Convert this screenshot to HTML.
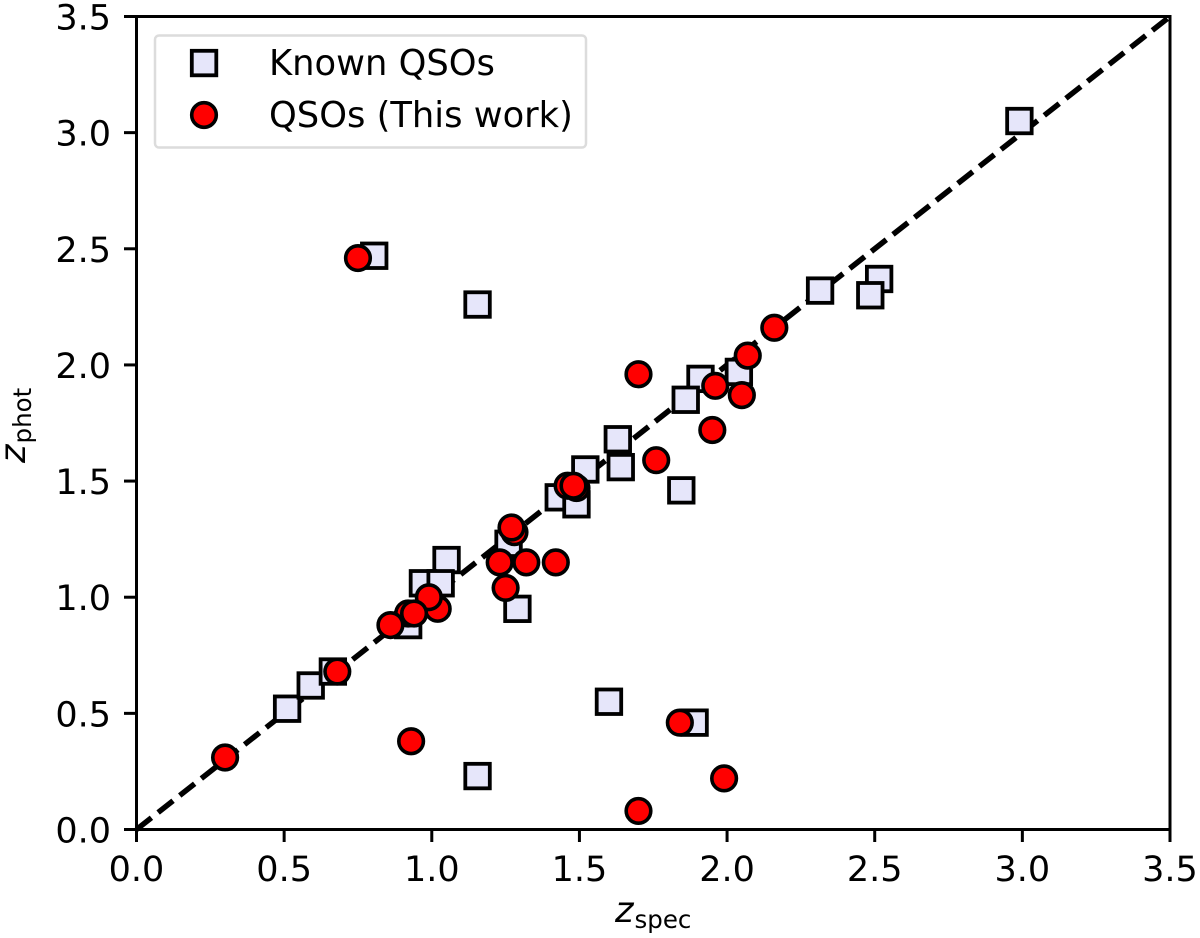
<!DOCTYPE html>
<html>
<head>
<meta charset="utf-8">
<title>zphot vs zspec</title>
<style>
html,body{margin:0;padding:0;background:#fff;}
svg{display:block;}
text{font-family:"DejaVu Sans",sans-serif;fill:#000;}
</style>
</head>
<body>
<svg id="chart" xmlns="http://www.w3.org/2000/svg" width="1200" height="938" viewBox="0 0 1200 938">
  <rect x="0" y="0" width="1200" height="938" fill="#fff"/>
  <g id="lineLayer"></g>
  <g id="squareLayer"></g>
  <g id="circleLayer"></g>
  <rect x="136.5" y="16.5" width="1033.5" height="813" fill="none" stroke="#000" stroke-width="3"/>
  <g id="xTicks"></g>
  <g id="yTicks"></g>
  <text x="615" y="922" font-size="35.3"><tspan font-style="italic">z</tspan><tspan dx="1" dy="6" font-size="24.5">spec</tspan></text>
  <text transform="translate(25,463) rotate(-90)" font-size="35.3"><tspan font-style="italic">z</tspan><tspan dx="1" dy="6" font-size="24.5">phot</tspan></text>
  <g>
    <rect x="155" y="35.5" width="431" height="112" rx="4" ry="4" fill="#fff" fill-opacity="0.85" stroke="#dcdcdc" stroke-width="2.5"/>
    <rect x="191.8" y="50.8" width="24.5" height="24.5" fill="#E6E6FA" stroke="#000" stroke-width="3.8"/>
    <text x="269" y="75" font-size="35.3">Known QSOs</text>
    <circle cx="204" cy="115" r="12.3" fill="#FF0000" stroke="#000" stroke-width="3.6"/>
    <text x="269" y="127" font-size="35.3">QSOs (This work)</text>
  </g>
</svg>
<script>
const tickValues = [0, 0.5, 1, 1.5, 2, 2.5, 3, 3.5];
const tickLabels = ["0.0", "0.5", "1.0", "1.5", "2.0", "2.5", "3.0", "3.5"];
const lineX = [0, 3.5];
const lineY = [0, 3.5];
const knownX = [0.51, 0.59, 0.665, 0.805, 1.155, 2.99, 2.515, 2.485, 2.315, 1.91, 2.04, 1.86, 1.63, 1.64, 1.845, 1.52, 1.43, 1.49, 1.26, 1.29, 1.05, 0.97, 1.03, 0.92, 1.60, 1.89, 1.155];
const knownY = [0.52, 0.62, 0.68, 2.47, 2.26, 3.05, 2.37, 2.30, 2.32, 1.94, 1.97, 1.85, 1.68, 1.56, 1.46, 1.55, 1.43, 1.40, 1.23, 0.95, 1.16, 1.06, 1.06, 0.88, 0.55, 0.46, 0.23];
const thisWorkX = [0.30, 0.75, 0.68, 0.93, 1.02, 0.99, 0.92, 0.94, 0.86, 1.23, 1.32, 1.42, 1.25, 1.28, 1.27, 1.46, 1.49, 1.48, 1.70, 1.96, 2.05, 2.07, 1.95, 1.76, 2.16, 1.84, 1.99, 1.70];
const thisWorkY = [0.31, 2.46, 0.68, 0.38, 0.95, 1.00, 0.93, 0.93, 0.88, 1.15, 1.15, 1.15, 1.04, 1.28, 1.30, 1.48, 1.47, 1.48, 1.96, 1.91, 1.87, 2.04, 1.72, 1.59, 2.16, 0.46, 0.22, 0.08];

const NS = 'http://www.w3.org/2000/svg';
function xScale(v) { return 136.5 + v * (1170 - 136.5) / 3.5; }
function yScale(v) { return 829.5 - v * (829.5 - 16.5) / 3.5; }
function make(tag, attrs, parent) {
  const el = document.createElementNS(NS, tag);
  for (const k in attrs) el.setAttribute(k, attrs[k]);
  parent.appendChild(el);
  return el;
}

const lineLayer = document.getElementById('lineLayer');
const squareLayer = document.getElementById('squareLayer');
const circleLayer = document.getElementById('circleLayer');
const xTicks = document.getElementById('xTicks');
const yTicks = document.getElementById('yTicks');

const diag = make('line', {x1: xScale(lineX[0]), y1: yScale(lineY[0]), x2: xScale(lineX[1]), y2: yScale(lineY[1]), stroke: '#000', 'stroke-width': 5.5, 'stroke-dasharray': '19 8.5'}, lineLayer);



knownX.forEach(function (x, i) {
  const s = 24.5;
  const r = make('rect', {x: xScale(x) - s / 2, y: yScale(knownY[i]) - s / 2, width: s, height: s, fill: '#E6E6FA', stroke: '#000', 'stroke-width': 3.8}, squareLayer);
  
  
});

thisWorkX.forEach(function (x, i) {
  const c = make('circle', {cx: xScale(x), cy: yScale(thisWorkY[i]), r: 12.3, fill: '#FF0000', stroke: '#000', 'stroke-width': 3.6}, circleLayer);
  
  
});

tickValues.forEach(function (v, i) {
  const px = xScale(v);
  const py = yScale(v);
  const xt = make('line', {x1: px, y1: 829.5, x2: px, y2: 842, stroke: '#000', 'stroke-width': 3}, xTicks);
  
  
  const xl = make('text', {x: px, y: 881, 'font-size': 35, 'text-anchor': 'middle'}, xTicks);
  
  
  xl.textContent = tickLabels[i];
  const yt = make('line', {x1: 124, y1: py, x2: 136.5, y2: py, stroke: '#000', 'stroke-width': 3}, yTicks);
  
  
  const yl = make('text', {x: 111, y: py + 13, 'font-size': 35, 'text-anchor': 'end'}, yTicks);
  
  
  yl.textContent = tickLabels[i];
});
</script>
</body>
</html>
